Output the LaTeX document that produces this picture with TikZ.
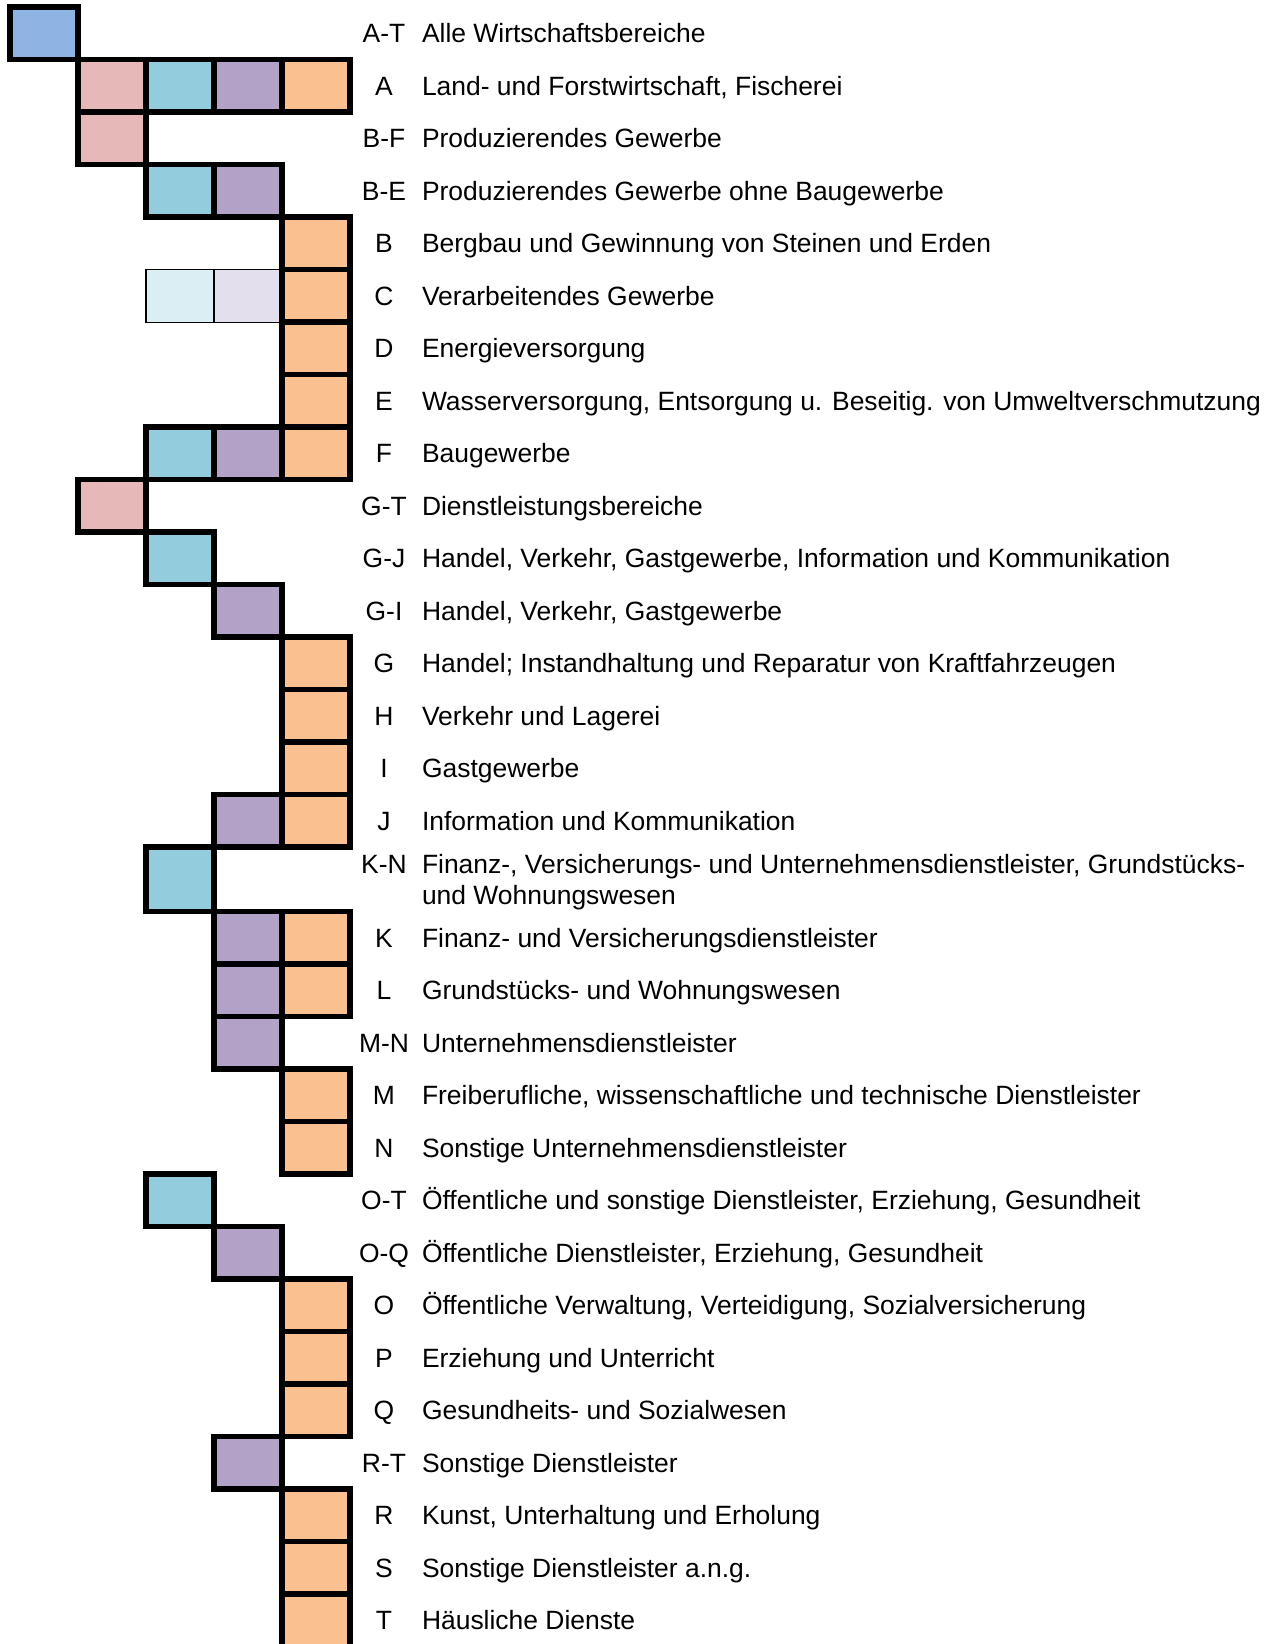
\documentclass[tikz,border=0pt]{standalone}
\usepackage{fontspec}
\setmainfont{Liberation Sans}
\definecolor{cblue}{HTML}{8EB4E3}
\definecolor{cpink}{HTML}{E6B9B8}
\definecolor{caqua}{HTML}{93CDDD}
\definecolor{cpurple}{HTML}{B3A2C7}
\definecolor{corange}{HTML}{FAC090}
\definecolor{claqua}{HTML}{DBEEF4}
\definecolor{clpurple}{HTML}{E3DFEC}
\tikzset{
  cell/.style={draw=black, line width=5.5pt, minimum width=68pt, minimum height=52.5pt,
    inner sep=0pt, outer sep=0pt, anchor=north west},
  lightcell/.style={cell, line width=1.3pt},
  tallcell/.style={cell, minimum height=64.5pt},
  lab/.style={inner sep=0pt, outer sep=0pt, font=\fontsize{26.45pt}{31.5pt}\selectfont},
  code/.style={lab, anchor=base},
  desc/.style={lab, anchor=base west}
}
\begin{document}
\begin{tikzpicture}[x=1pt,y=-1pt]
\useasboundingbox (0,0) rectangle (1275,1644);
\clip (0,0) rectangle (1275,1644);
% light cells first
\node[lightcell, fill=claqua] (c5-2) at (146,269.7) {};
\node[lightcell, fill=clpurple] (c5-3) at (214,269.7) {};
% row 0
\node[cell, fill=cblue] (c0-0) at (10,7.2) {};
% row 1
\node[cell, fill=cpink] (c1-1) at (78,59.7) {};
\node[cell, fill=caqua] (c1-2) at (146,59.7) {};
\node[cell, fill=cpurple] (c1-3) at (214,59.7) {};
\node[cell, fill=corange] (c1-4) at (282,59.7) {};
% row 2
\node[cell, fill=cpink] (c2-1) at (78,112.2) {};
% row 3
\node[cell, fill=caqua] (c3-2) at (146,164.7) {};
\node[cell, fill=cpurple] (c3-3) at (214,164.7) {};
% rows 4-7
\node[cell, fill=corange] (c4-4) at (282,217.2) {};
\node[cell, fill=corange] (c5-4) at (282,269.7) {};
\node[cell, fill=corange] (c6-4) at (282,322.2) {};
\node[cell, fill=corange] (c7-4) at (282,374.7) {};
% row 8
\node[cell, fill=caqua] (c8-2) at (146,427.2) {};
\node[cell, fill=cpurple] (c8-3) at (214,427.2) {};
\node[cell, fill=corange] (c8-4) at (282,427.2) {};
% row 9
\node[cell, fill=cpink] (c9-1) at (78,479.7) {};
% row 10
\node[cell, fill=caqua] (c10-2) at (146,532.2) {};
% row 11
\node[cell, fill=cpurple] (c11-3) at (214,584.7) {};
% rows 12-14
\node[cell, fill=corange] (c12-4) at (282,637.2) {};
\node[cell, fill=corange] (c13-4) at (282,689.7) {};
\node[cell, fill=corange] (c14-4) at (282,742.2) {};
% row 15
\node[cell, fill=cpurple] (c15-3) at (214,794.7) {};
\node[cell, fill=corange] (c15-4) at (282,794.7) {};
% row 16
\node[tallcell, fill=caqua] (c16-2) at (146,847.2) {};
% rows 17-18
\node[cell, fill=cpurple] (c17-3) at (214,911.7) {};
\node[cell, fill=corange] (c17-4) at (282,911.7) {};
\node[cell, fill=cpurple] (c18-3) at (214,964.2) {};
\node[cell, fill=corange] (c18-4) at (282,964.2) {};
% row 19
\node[cell, fill=cpurple] (c19-3) at (214,1016.7) {};
% rows 20-21
\node[cell, fill=corange] (c20-4) at (282,1069.2) {};
\node[cell, fill=corange] (c21-4) at (282,1121.7) {};
% row 22
\node[cell, fill=caqua] (c22-2) at (146,1174.2) {};
% row 23
\node[cell, fill=cpurple] (c23-3) at (214,1226.7) {};
% rows 24-26
\node[cell, fill=corange] (c24-4) at (282,1279.2) {};
\node[cell, fill=corange] (c25-4) at (282,1331.7) {};
\node[cell, fill=corange] (c26-4) at (282,1384.2) {};
% row 27
\node[cell, fill=cpurple] (c27-3) at (214,1436.7) {};
% rows 28-30
\node[cell, fill=corange] (c28-4) at (282,1489.2) {};
\node[cell, fill=corange] (c29-4) at (282,1541.7) {};
\node[cell, fill=corange] (c30-4) at (282,1594.2) {};

% labels
\node[code] (k0) at (384,42.75) {A-T};
\node[desc] (d0) at (422,42.75) {Alle Wirtschaftsbereiche};
\node[code] (k1) at (384,95.25) {A};
\node[desc] (d1) at (422,95.25) {Land- und Forstwirtschaft, Fischerei};
\node[code] (k2) at (384,147.75) {B-F};
\node[desc] (d2) at (422,147.75) {Produzierendes Gewerbe};
\node[code] (k3) at (384,200.25) {B-E};
\node[desc] (d3) at (422,200.25) {Produzierendes Gewerbe ohne Baugewerbe};
\node[code] (k4) at (384,252.75) {B};
\node[desc] (d4) at (422,252.75) {Bergbau und Gewinnung von Steinen und Erden};
\node[code] (k5) at (384,305.25) {C};
\node[desc] (d5) at (422,305.25) {Verarbeitendes Gewerbe};
\node[code] (k6) at (384,357.75) {D};
\node[desc] (d6) at (422,357.75) {Energieversorgung};
\node[code] (k7) at (384,410.25) {E};
\node[desc] (d7) at (422,410.25) {Wasserversorgung, Entsorgung u. Beseitig. von Umweltverschmutzung};
\node[code] (k8) at (384,462.75) {F};
\node[desc] (d8) at (422,462.75) {Baugewerbe};
\node[code] (k9) at (384,515.25) {G-T};
\node[desc] (d9) at (422,515.25) {Dienstleistungsbereiche};
\node[code] (k10) at (384,567.75) {G-J};
\node[desc] (d10) at (422,567.75) {Handel, Verkehr, Gastgewerbe, Information und Kommunikation};
\node[code] (k11) at (384,620.25) {G-I};
\node[desc] (d11) at (422,620.25) {Handel, Verkehr, Gastgewerbe};
\node[code] (k12) at (384,672.75) {G};
\node[desc] (d12) at (422,672.75) {Handel; Instandhaltung und Reparatur von Kraftfahrzeugen};
\node[code] (k13) at (384,725.25) {H};
\node[desc] (d13) at (422,725.25) {Verkehr und Lagerei};
\node[code] (k14) at (384,777.75) {I};
\node[desc] (d14) at (422,777.75) {Gastgewerbe};
\node[code] (k15) at (384,830.25) {J};
\node[desc] (d15) at (422,830.25) {Information und Kommunikation};
\node[code] (k16) at (384,873) {K-N};
\node[desc] (d16) at (422,873) {Finanz-, Versicherungs- und Unternehmensdienstleister, Grundstücks-};
\node[desc] (d16b) at (422,904.5) {und Wohnungswesen};
\node[code] (k17) at (384,947.25) {K};
\node[desc] (d17) at (422,947.25) {Finanz- und Versicherungsdienstleister};
\node[code] (k18) at (384,999.75) {L};
\node[desc] (d18) at (422,999.75) {Grundstücks- und Wohnungswesen};
\node[code] (k19) at (384,1052.25) {M-N};
\node[desc] (d19) at (422,1052.25) {Unternehmensdienstleister};
\node[code] (k20) at (384,1104.75) {M};
\node[desc] (d20) at (422,1104.75) {Freiberufliche, wissenschaftliche und technische Dienstleister};
\node[code] (k21) at (384,1157.25) {N};
\node[desc] (d21) at (422,1157.25) {Sonstige Unternehmensdienstleister};
\node[code] (k22) at (384,1209.75) {O-T};
\node[desc] (d22) at (422,1209.75) {Öffentliche und sonstige Dienstleister, Erziehung, Gesundheit};
\node[code] (k23) at (384,1262.25) {O-Q};
\node[desc] (d23) at (422,1262.25) {Öffentliche Dienstleister, Erziehung, Gesundheit};
\node[code] (k24) at (384,1314.75) {O};
\node[desc] (d24) at (422,1314.75) {Öffentliche Verwaltung, Verteidigung, Sozialversicherung};
\node[code] (k25) at (384,1367.25) {P};
\node[desc] (d25) at (422,1367.25) {Erziehung und Unterricht};
\node[code] (k26) at (384,1419.75) {Q};
\node[desc] (d26) at (422,1419.75) {Gesundheits- und Sozialwesen};
\node[code] (k27) at (384,1472.25) {R-T};
\node[desc] (d27) at (422,1472.25) {Sonstige Dienstleister};
\node[code] (k28) at (384,1524.75) {R};
\node[desc] (d28) at (422,1524.75) {Kunst, Unterhaltung und Erholung};
\node[code] (k29) at (384,1577.25) {S};
\node[desc] (d29) at (422,1577.25) {Sonstige Dienstleister a.n.g.};
\node[code] (k30) at (384,1629.75) {T};
\node[desc] (d30) at (422,1629.75) {Häusliche Dienste};
\end{tikzpicture}
\end{document}
